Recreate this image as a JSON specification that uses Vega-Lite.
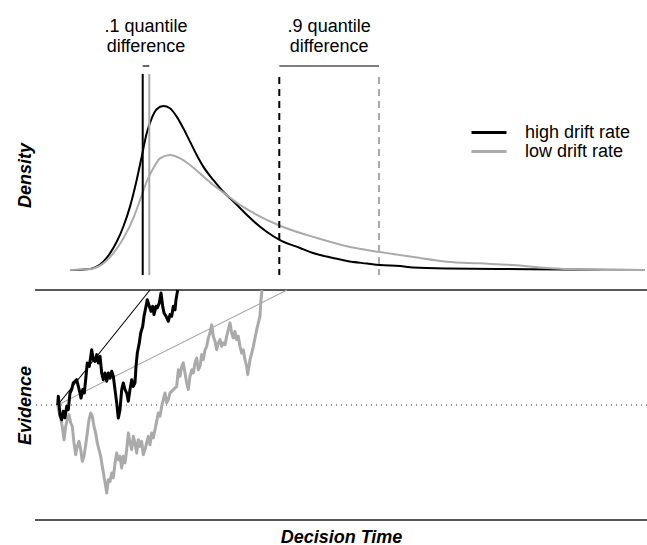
{
  "$schema": "https://vega.github.io/schema/vega-lite/v6.json",
  "background": "white",
  "padding": {"left": 16, "top": 0, "right": 0, "bottom": 0},
  "spacing": 0,
  "datasets": {
    "density": [
      {"drift": "high drift rate", "t": 0.1029, "d": 0},
      {"drift": "high drift rate", "t": 0.1618, "d": 0.0065},
      {"drift": "high drift rate", "t": 0.1815, "d": 0.02},
      {"drift": "high drift rate", "t": 0.2009, "d": 0.05},
      {"drift": "high drift rate", "t": 0.2206, "d": 0.0995},
      {"drift": "high drift rate", "t": 0.2403, "d": 0.168},
      {"drift": "high drift rate", "t": 0.2597, "d": 0.257},
      {"drift": "high drift rate", "t": 0.2794, "d": 0.376},
      {"drift": "high drift rate", "t": 0.2991, "d": 0.534},
      {"drift": "high drift rate", "t": 0.3138, "d": 0.672},
      {"drift": "high drift rate", "t": 0.3285, "d": 0.81},
      {"drift": "high drift rate", "t": 0.3432, "d": 0.899},
      {"drift": "high drift rate", "t": 0.3579, "d": 0.953},
      {"drift": "high drift rate", "t": 0.3774, "d": 0.972},
      {"drift": "high drift rate", "t": 0.3971, "d": 0.959},
      {"drift": "high drift rate", "t": 0.4168, "d": 0.909},
      {"drift": "high drift rate", "t": 0.4362, "d": 0.84},
      {"drift": "high drift rate", "t": 0.4559, "d": 0.761},
      {"drift": "high drift rate", "t": 0.4756, "d": 0.682},
      {"drift": "high drift rate", "t": 0.495, "d": 0.613},
      {"drift": "high drift rate", "t": 0.5244, "d": 0.534},
      {"drift": "high drift rate", "t": 0.5538, "d": 0.464},
      {"drift": "high drift rate", "t": 0.5824, "d": 0.409},
      {"drift": "high drift rate", "t": 0.6029, "d": 0.368},
      {"drift": "high drift rate", "t": 0.6235, "d": 0.326},
      {"drift": "high drift rate", "t": 0.6824, "d": 0.226},
      {"drift": "high drift rate", "t": 0.7206, "d": 0.178},
      {"drift": "high drift rate", "t": 0.7794, "d": 0.131},
      {"drift": "high drift rate", "t": 0.8176, "d": 0.101},
      {"drift": "high drift rate", "t": 0.8765, "d": 0.072},
      {"drift": "high drift rate", "t": 0.9176, "d": 0.054},
      {"drift": "high drift rate", "t": 0.9765, "d": 0.039},
      {"drift": "high drift rate", "t": 1.0147, "d": 0.03},
      {"drift": "high drift rate", "t": 1.0735, "d": 0.024},
      {"drift": "high drift rate", "t": 1.1118, "d": 0.015},
      {"drift": "high drift rate", "t": 1.2118, "d": 0.009},
      {"drift": "high drift rate", "t": 1.3676, "d": 0.0065},
      {"drift": "high drift rate", "t": 1.5441, "d": 0.0036},
      {"drift": "high drift rate", "t": 1.7941, "d": 0},
      {"drift": "low drift rate", "t": 0.1029, "d": 0},
      {"drift": "low drift rate", "t": 0.1618, "d": 0.006},
      {"drift": "low drift rate", "t": 0.2009, "d": 0.04},
      {"drift": "low drift rate", "t": 0.2303, "d": 0.0995},
      {"drift": "low drift rate", "t": 0.2597, "d": 0.188},
      {"drift": "low drift rate", "t": 0.2891, "d": 0.307},
      {"drift": "low drift rate", "t": 0.3088, "d": 0.415},
      {"drift": "low drift rate", "t": 0.3285, "d": 0.524},
      {"drift": "low drift rate", "t": 0.3479, "d": 0.603},
      {"drift": "low drift rate", "t": 0.3676, "d": 0.662},
      {"drift": "low drift rate", "t": 0.3971, "d": 0.682},
      {"drift": "low drift rate", "t": 0.4265, "d": 0.662},
      {"drift": "low drift rate", "t": 0.4559, "d": 0.623},
      {"drift": "low drift rate", "t": 0.4853, "d": 0.573},
      {"drift": "low drift rate", "t": 0.5244, "d": 0.504},
      {"drift": "low drift rate", "t": 0.5638, "d": 0.445},
      {"drift": "low drift rate", "t": 0.6029, "d": 0.386},
      {"drift": "low drift rate", "t": 0.6412, "d": 0.34},
      {"drift": "low drift rate", "t": 0.7206, "d": 0.263},
      {"drift": "low drift rate", "t": 0.8294, "d": 0.19},
      {"drift": "low drift rate", "t": 0.9265, "d": 0.137},
      {"drift": "low drift rate", "t": 1.0147, "d": 0.107},
      {"drift": "low drift rate", "t": 1.1118, "d": 0.078},
      {"drift": "low drift rate", "t": 1.2118, "d": 0.05},
      {"drift": "low drift rate", "t": 1.3088, "d": 0.04},
      {"drift": "low drift rate", "t": 1.4059, "d": 0.03},
      {"drift": "low drift rate", "t": 1.5059, "d": 0.013},
      {"drift": "low drift rate", "t": 1.6029, "d": 0.004},
      {"drift": "low drift rate", "t": 1.7941, "d": 0}
    ],
    "quantiles": [
      {"drift": "high drift rate", "q": ".1", "t": 0.3168, "top": 1.162, "bottom": -0.029},
      {"drift": "low drift rate", "q": ".1", "t": 0.3362, "top": 1.162, "bottom": -0.029},
      {"drift": "high drift rate", "q": ".9", "t": 0.7185, "top": 1.144, "bottom": -0.029},
      {"drift": "low drift rate", "q": ".9", "t": 1.0118, "top": 1.144, "bottom": -0.029}
    ],
    "differences": [
      {"q": ".1", "t1": 0.3168, "t2": 0.3362, "d": 1.209, "mid": 0.3265, "labelD": 1.4105, "label": ".1 quantile\ndifference"},
      {"q": ".9", "t1": 0.7185, "t2": 1.0118, "d": 1.209, "mid": 0.8651, "labelD": 1.4105, "label": ".9 quantile\ndifference"}
    ],
    "levels": [
      {"level": "upper boundary", "e": 1},
      {"level": "lower boundary", "e": 0},
      {"level": "starting point", "e": 0.5}
    ],
    "driftlines": [
      {"drift": "high drift rate", "t": 0.0668, "e": 0.5},
      {"drift": "high drift rate", "t": 0.3382, "e": 1},
      {"drift": "low drift rate", "t": 0.0668, "e": 0.5},
      {"drift": "low drift rate", "t": 0.7412, "e": 1}
    ],
    "walks": [
      {"drift": "low drift rate", "t": 0.0668, "e": 0.5},
      {"drift": "low drift rate", "t": 0.0715, "e": 0.465},
      {"drift": "low drift rate", "t": 0.0765, "e": 0.436},
      {"drift": "low drift rate", "t": 0.0815, "e": 0.393},
      {"drift": "low drift rate", "t": 0.0853, "e": 0.349},
      {"drift": "low drift rate", "t": 0.0903, "e": 0.407},
      {"drift": "low drift rate", "t": 0.095, "e": 0.436},
      {"drift": "low drift rate", "t": 0.1, "e": 0.458},
      {"drift": "low drift rate", "t": 0.105, "e": 0.422},
      {"drift": "low drift rate", "t": 0.1097, "e": 0.407},
      {"drift": "low drift rate", "t": 0.1147, "e": 0.335},
      {"drift": "low drift rate", "t": 0.1197, "e": 0.284},
      {"drift": "low drift rate", "t": 0.1244, "e": 0.32},
      {"drift": "low drift rate", "t": 0.1294, "e": 0.342},
      {"drift": "low drift rate", "t": 0.1344, "e": 0.306},
      {"drift": "low drift rate", "t": 0.1391, "e": 0.255},
      {"drift": "low drift rate", "t": 0.1441, "e": 0.277},
      {"drift": "low drift rate", "t": 0.1491, "e": 0.327},
      {"drift": "low drift rate", "t": 0.1538, "e": 0.378},
      {"drift": "low drift rate", "t": 0.1588, "e": 0.436},
      {"drift": "low drift rate", "t": 0.1638, "e": 0.465},
      {"drift": "low drift rate", "t": 0.1685, "e": 0.451},
      {"drift": "low drift rate", "t": 0.1735, "e": 0.407},
      {"drift": "low drift rate", "t": 0.1785, "e": 0.378},
      {"drift": "low drift rate", "t": 0.1832, "e": 0.335},
      {"drift": "low drift rate", "t": 0.1882, "e": 0.306},
      {"drift": "low drift rate", "t": 0.1932, "e": 0.277},
      {"drift": "low drift rate", "t": 0.1979, "e": 0.233},
      {"drift": "low drift rate", "t": 0.2029, "e": 0.19},
      {"drift": "low drift rate", "t": 0.2079, "e": 0.147},
      {"drift": "low drift rate", "t": 0.2109, "e": 0.117},
      {"drift": "low drift rate", "t": 0.2156, "e": 0.175},
      {"drift": "low drift rate", "t": 0.2206, "e": 0.168},
      {"drift": "low drift rate", "t": 0.2256, "e": 0.204},
      {"drift": "low drift rate", "t": 0.2303, "e": 0.183},
      {"drift": "low drift rate", "t": 0.2353, "e": 0.248},
      {"drift": "low drift rate", "t": 0.2403, "e": 0.291},
      {"drift": "low drift rate", "t": 0.245, "e": 0.262},
      {"drift": "low drift rate", "t": 0.25, "e": 0.277},
      {"drift": "low drift rate", "t": 0.255, "e": 0.226},
      {"drift": "low drift rate", "t": 0.2597, "e": 0.277},
      {"drift": "low drift rate", "t": 0.2647, "e": 0.248},
      {"drift": "low drift rate", "t": 0.2697, "e": 0.306},
      {"drift": "low drift rate", "t": 0.2744, "e": 0.378},
      {"drift": "low drift rate", "t": 0.2794, "e": 0.335},
      {"drift": "low drift rate", "t": 0.2844, "e": 0.306},
      {"drift": "low drift rate", "t": 0.2891, "e": 0.364},
      {"drift": "low drift rate", "t": 0.2941, "e": 0.335},
      {"drift": "low drift rate", "t": 0.2991, "e": 0.291},
      {"drift": "low drift rate", "t": 0.3038, "e": 0.349},
      {"drift": "low drift rate", "t": 0.3088, "e": 0.32},
      {"drift": "low drift rate", "t": 0.3138, "e": 0.342},
      {"drift": "low drift rate", "t": 0.3185, "e": 0.284},
      {"drift": "low drift rate", "t": 0.3235, "e": 0.306},
      {"drift": "low drift rate", "t": 0.3285, "e": 0.335},
      {"drift": "low drift rate", "t": 0.3332, "e": 0.364},
      {"drift": "low drift rate", "t": 0.3382, "e": 0.327},
      {"drift": "low drift rate", "t": 0.3432, "e": 0.378},
      {"drift": "low drift rate", "t": 0.3479, "e": 0.357},
      {"drift": "low drift rate", "t": 0.3529, "e": 0.393},
      {"drift": "low drift rate", "t": 0.3579, "e": 0.429},
      {"drift": "low drift rate", "t": 0.3626, "e": 0.465},
      {"drift": "low drift rate", "t": 0.3676, "e": 0.451},
      {"drift": "low drift rate", "t": 0.3726, "e": 0.494},
      {"drift": "low drift rate", "t": 0.3774, "e": 0.523},
      {"drift": "low drift rate", "t": 0.3824, "e": 0.552},
      {"drift": "low drift rate", "t": 0.3874, "e": 0.509},
      {"drift": "low drift rate", "t": 0.3921, "e": 0.523},
      {"drift": "low drift rate", "t": 0.3971, "e": 0.552},
      {"drift": "low drift rate", "t": 0.4068, "e": 0.567},
      {"drift": "low drift rate", "t": 0.4168, "e": 0.581},
      {"drift": "low drift rate", "t": 0.4215, "e": 0.653},
      {"drift": "low drift rate", "t": 0.4265, "e": 0.625},
      {"drift": "low drift rate", "t": 0.4315, "e": 0.668},
      {"drift": "low drift rate", "t": 0.4362, "e": 0.683},
      {"drift": "low drift rate", "t": 0.4412, "e": 0.639},
      {"drift": "low drift rate", "t": 0.4462, "e": 0.596},
      {"drift": "low drift rate", "t": 0.4509, "e": 0.567},
      {"drift": "low drift rate", "t": 0.4559, "e": 0.625},
      {"drift": "low drift rate", "t": 0.4609, "e": 0.653},
      {"drift": "low drift rate", "t": 0.4656, "e": 0.639},
      {"drift": "low drift rate", "t": 0.4706, "e": 0.683},
      {"drift": "low drift rate", "t": 0.4756, "e": 0.704},
      {"drift": "low drift rate", "t": 0.4803, "e": 0.653},
      {"drift": "low drift rate", "t": 0.4853, "e": 0.668},
      {"drift": "low drift rate", "t": 0.4903, "e": 0.719},
      {"drift": "low drift rate", "t": 0.495, "e": 0.697},
      {"drift": "low drift rate", "t": 0.5, "e": 0.74},
      {"drift": "low drift rate", "t": 0.505, "e": 0.755},
      {"drift": "low drift rate", "t": 0.5097, "e": 0.791},
      {"drift": "low drift rate", "t": 0.5147, "e": 0.813},
      {"drift": "low drift rate", "t": 0.5197, "e": 0.849},
      {"drift": "low drift rate", "t": 0.5244, "e": 0.799},
      {"drift": "low drift rate", "t": 0.5294, "e": 0.777},
      {"drift": "low drift rate", "t": 0.5344, "e": 0.74},
      {"drift": "low drift rate", "t": 0.5391, "e": 0.77},
      {"drift": "low drift rate", "t": 0.5441, "e": 0.784},
      {"drift": "low drift rate", "t": 0.5491, "e": 0.755},
      {"drift": "low drift rate", "t": 0.5538, "e": 0.77},
      {"drift": "low drift rate", "t": 0.5588, "e": 0.762},
      {"drift": "low drift rate", "t": 0.5638, "e": 0.799},
      {"drift": "low drift rate", "t": 0.5685, "e": 0.827},
      {"drift": "low drift rate", "t": 0.5735, "e": 0.857},
      {"drift": "low drift rate", "t": 0.5785, "e": 0.813},
      {"drift": "low drift rate", "t": 0.5832, "e": 0.791},
      {"drift": "low drift rate", "t": 0.5882, "e": 0.82},
      {"drift": "low drift rate", "t": 0.5932, "e": 0.784},
      {"drift": "low drift rate", "t": 0.5979, "e": 0.799},
      {"drift": "low drift rate", "t": 0.6029, "e": 0.755},
      {"drift": "low drift rate", "t": 0.6079, "e": 0.726},
      {"drift": "low drift rate", "t": 0.6126, "e": 0.74},
      {"drift": "low drift rate", "t": 0.6176, "e": 0.697},
      {"drift": "low drift rate", "t": 0.6226, "e": 0.668},
      {"drift": "low drift rate", "t": 0.6256, "e": 0.632},
      {"drift": "low drift rate", "t": 0.6294, "e": 0.668},
      {"drift": "low drift rate", "t": 0.6324, "e": 0.697},
      {"drift": "low drift rate", "t": 0.6374, "e": 0.726},
      {"drift": "low drift rate", "t": 0.6421, "e": 0.755},
      {"drift": "low drift rate", "t": 0.6471, "e": 0.791},
      {"drift": "low drift rate", "t": 0.6521, "e": 0.827},
      {"drift": "low drift rate", "t": 0.6568, "e": 0.857},
      {"drift": "low drift rate", "t": 0.6618, "e": 0.886},
      {"drift": "low drift rate", "t": 0.6638, "e": 0.943},
      {"drift": "low drift rate", "t": 0.6676, "e": 1},
      {"drift": "high drift rate", "t": 0.0668, "e": 0.5},
      {"drift": "high drift rate", "t": 0.0685, "e": 0.538},
      {"drift": "high drift rate", "t": 0.0735, "e": 0.458},
      {"drift": "high drift rate", "t": 0.0785, "e": 0.436},
      {"drift": "high drift rate", "t": 0.0832, "e": 0.473},
      {"drift": "high drift rate", "t": 0.0882, "e": 0.444},
      {"drift": "high drift rate", "t": 0.0932, "e": 0.494},
      {"drift": "high drift rate", "t": 0.0979, "e": 0.48},
      {"drift": "high drift rate", "t": 0.1029, "e": 0.552},
      {"drift": "high drift rate", "t": 0.1079, "e": 0.567},
      {"drift": "high drift rate", "t": 0.1126, "e": 0.596},
      {"drift": "high drift rate", "t": 0.1176, "e": 0.603},
      {"drift": "high drift rate", "t": 0.1226, "e": 0.61},
      {"drift": "high drift rate", "t": 0.1274, "e": 0.581},
      {"drift": "high drift rate", "t": 0.1324, "e": 0.552},
      {"drift": "high drift rate", "t": 0.1353, "e": 0.53},
      {"drift": "high drift rate", "t": 0.1403, "e": 0.567},
      {"drift": "high drift rate", "t": 0.145, "e": 0.552},
      {"drift": "high drift rate", "t": 0.15, "e": 0.625},
      {"drift": "high drift rate", "t": 0.1538, "e": 0.683},
      {"drift": "high drift rate", "t": 0.1597, "e": 0.668},
      {"drift": "high drift rate", "t": 0.1668, "e": 0.74},
      {"drift": "high drift rate", "t": 0.1715, "e": 0.697},
      {"drift": "high drift rate", "t": 0.1765, "e": 0.69},
      {"drift": "high drift rate", "t": 0.1815, "e": 0.719},
      {"drift": "high drift rate", "t": 0.1862, "e": 0.683},
      {"drift": "high drift rate", "t": 0.1912, "e": 0.712},
      {"drift": "high drift rate", "t": 0.1962, "e": 0.639},
      {"drift": "high drift rate", "t": 0.2009, "e": 0.61},
      {"drift": "high drift rate", "t": 0.2059, "e": 0.639},
      {"drift": "high drift rate", "t": 0.2109, "e": 0.603},
      {"drift": "high drift rate", "t": 0.2156, "e": 0.639},
      {"drift": "high drift rate", "t": 0.2206, "e": 0.617},
      {"drift": "high drift rate", "t": 0.2256, "e": 0.647},
      {"drift": "high drift rate", "t": 0.2303, "e": 0.625},
      {"drift": "high drift rate", "t": 0.2353, "e": 0.567},
      {"drift": "high drift rate", "t": 0.2403, "e": 0.509},
      {"drift": "high drift rate", "t": 0.245, "e": 0.443},
      {"drift": "high drift rate", "t": 0.25, "e": 0.48},
      {"drift": "high drift rate", "t": 0.255, "e": 0.567},
      {"drift": "high drift rate", "t": 0.2597, "e": 0.596},
      {"drift": "high drift rate", "t": 0.2647, "e": 0.567},
      {"drift": "high drift rate", "t": 0.2697, "e": 0.552},
      {"drift": "high drift rate", "t": 0.2744, "e": 0.516},
      {"drift": "high drift rate", "t": 0.2794, "e": 0.567},
      {"drift": "high drift rate", "t": 0.2844, "e": 0.61},
      {"drift": "high drift rate", "t": 0.2891, "e": 0.581},
      {"drift": "high drift rate", "t": 0.2941, "e": 0.596},
      {"drift": "high drift rate", "t": 0.2971, "e": 0.668},
      {"drift": "high drift rate", "t": 0.3009, "e": 0.726},
      {"drift": "high drift rate", "t": 0.3068, "e": 0.77},
      {"drift": "high drift rate", "t": 0.3109, "e": 0.813},
      {"drift": "high drift rate", "t": 0.3168, "e": 0.842},
      {"drift": "high drift rate", "t": 0.3206, "e": 0.886},
      {"drift": "high drift rate", "t": 0.3265, "e": 0.929},
      {"drift": "high drift rate", "t": 0.3303, "e": 0.958},
      {"drift": "high drift rate", "t": 0.3362, "e": 0.929},
      {"drift": "high drift rate", "t": 0.3412, "e": 0.907},
      {"drift": "high drift rate", "t": 0.3462, "e": 0.929},
      {"drift": "high drift rate", "t": 0.35, "e": 0.893},
      {"drift": "high drift rate", "t": 0.3559, "e": 0.929},
      {"drift": "high drift rate", "t": 0.3597, "e": 0.922},
      {"drift": "high drift rate", "t": 0.3656, "e": 0.943},
      {"drift": "high drift rate", "t": 0.3706, "e": 0.987},
      {"drift": "high drift rate", "t": 0.3756, "e": 0.929},
      {"drift": "high drift rate", "t": 0.3794, "e": 0.9},
      {"drift": "high drift rate", "t": 0.3853, "e": 0.886},
      {"drift": "high drift rate", "t": 0.3921, "e": 0.864},
      {"drift": "high drift rate", "t": 0.3971, "e": 0.893},
      {"drift": "high drift rate", "t": 0.4021, "e": 0.886},
      {"drift": "high drift rate", "t": 0.4068, "e": 0.929},
      {"drift": "high drift rate", "t": 0.4118, "e": 0.914},
      {"drift": "high drift rate", "t": 0.4147, "e": 0.958},
      {"drift": "high drift rate", "t": 0.4197, "e": 1}
    ]
  },
  "resolve": {"scale": {"x": "shared", "color": "shared"}},
  "vconcat": [
    {
      "width": 612,
      "height": 287,
      "encoding": {
        "x": {"type": "quantitative", "scale": {"domain": [0, 1.8], "nice": false, "zero": false}, "axis": null}
      },
      "layer": [
        {
          "data": {"name": "density"},
          "mark": {"type": "line", "strokeWidth": 2, "interpolate": "monotone"},
          "encoding": {
            "x": {"field": "t", "type": "quantitative", "title": "Decision Time"},
            "y": {"field": "d", "type": "quantitative", "title": "Density", "scale": {"domain": [-0.1, 1.6], "nice": false, "zero": false}, "axis": {"titleY": 175}},
            "color": {
              "field": "drift",
              "type": "nominal",
              "scale": {"domain": ["high drift rate", "low drift rate"], "range": ["#000000", "#aaaaaa"]},
              "legend": {"orient": "none", "legendX": 435, "legendY": 123, "title": null}
            }
          }
        },
        {
          "data": {"name": "quantiles"},
          "transform": [{"filter": "datum.q == '.1'"}],
          "mark": {"type": "rule", "strokeWidth": 2},
          "encoding": {
            "x": {"field": "t", "type": "quantitative"},
            "y": {"field": "top", "type": "quantitative"},
            "y2": {"field": "bottom"},
            "color": {"field": "drift", "type": "nominal"}
          }
        },
        {
          "data": {"name": "quantiles"},
          "transform": [{"filter": "datum.q == '.9'"}],
          "mark": {"type": "rule", "strokeWidth": 2, "strokeDash": [7, 5]},
          "encoding": {
            "x": {"field": "t", "type": "quantitative"},
            "y": {"field": "top", "type": "quantitative"},
            "y2": {"field": "bottom"},
            "color": {"field": "drift", "type": "nominal"}
          }
        },
        {
          "data": {"name": "differences"},
          "mark": {"type": "rule", "strokeWidth": 1.2, "color": "#000000"},
          "encoding": {
            "x": {"field": "t1", "type": "quantitative"},
            "x2": {"field": "t2"},
            "y": {"field": "d", "type": "quantitative"}
          }
        },
        {
          "data": {"name": "differences"},
          "mark": {"type": "text", "font": "Liberation Sans", "fontSize": 18, "align": "center", "baseline": "alphabetic", "lineBreak": "\n", "lineHeight": 20, "color": "#000000"},
          "encoding": {
            "x": {"field": "mid", "type": "quantitative"},
            "y": {"field": "labelD", "type": "quantitative"},
            "text": {"field": "label"}
          }
        }
      ]
    },
    {
      "width": 612,
      "height": 230,
      "layer": [
        {
          "data": {"name": "levels"},
          "transform": [{"filter": "datum.level != 'starting point'"}],
          "mark": {"type": "rule", "strokeWidth": 1.3, "color": "#222222"},
          "encoding": {
            "y": {"field": "e", "type": "quantitative", "title": "Evidence", "scale": {"domain": [0, 1], "nice": false}}
          }
        },
        {
          "data": {"name": "levels"},
          "transform": [{"filter": "datum.level == 'starting point'"}],
          "mark": {"type": "rule", "strokeWidth": 1, "strokeDash": [1, 4], "color": "#333333"},
          "encoding": {
            "y": {"field": "e", "type": "quantitative"}
          }
        },
        {
          "data": {"name": "driftlines"},
          "mark": {"type": "line", "strokeWidth": 1.1},
          "encoding": {
            "x": {"field": "t", "type": "quantitative", "title": "Decision Time", "scale": {"domain": [0, 1.8], "nice": false, "zero": false}},
            "y": {"field": "e", "type": "quantitative"},
            "color": {"field": "drift", "type": "nominal"}
          }
        },
        {
          "data": {"name": "walks"},
          "transform": [{"filter": "datum.drift == 'low drift rate'"}],
          "mark": {"type": "line", "strokeWidth": 3, "strokeJoin": "round"},
          "encoding": {
            "x": {"field": "t", "type": "quantitative"},
            "y": {"field": "e", "type": "quantitative"},
            "color": {"field": "drift", "type": "nominal"}
          }
        },
        {
          "data": {"name": "walks"},
          "transform": [{"filter": "datum.drift == 'high drift rate'"}],
          "mark": {"type": "line", "strokeWidth": 3, "strokeJoin": "round"},
          "encoding": {
            "x": {"field": "t", "type": "quantitative"},
            "y": {"field": "e", "type": "quantitative"},
            "color": {"field": "drift", "type": "nominal"}
          }
        }
      ]
    }
  ],
  "config": {
    "view": {"stroke": null},
    "font": "Liberation Sans",
    "axis": {
      "domain": false,
      "ticks": false,
      "labels": false,
      "grid": false,
      "titleFont": "Liberation Sans",
      "titleFontSize": 18,
      "titleFontWeight": "bold",
      "titleFontStyle": "italic",
      "titleColor": "#000000"
    },
    "axisY": {"titlePadding": 1},
    "axisX": {"titlePadding": 8},
    "legend": {
      "labelFont": "Liberation Sans",
      "labelFontSize": 18,
      "labelColor": "#000000",
      "symbolType": "stroke",
      "symbolSize": 1225,
      "symbolStrokeWidth": 3,
      "labelOffset": 17,
      "clipHeight": 19,
      "rowPadding": 0
    }
  }
}
